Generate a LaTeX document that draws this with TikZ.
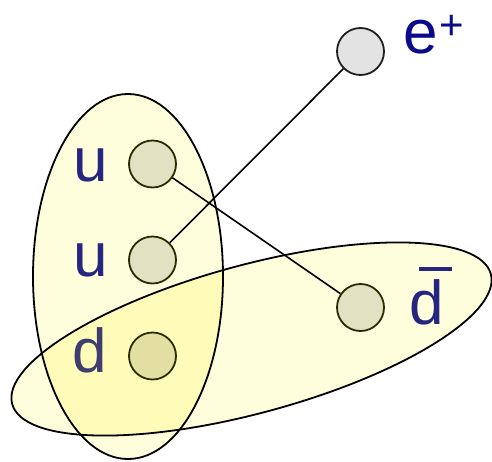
\documentclass[tikz,border=0pt]{standalone}
\usepackage{fontspec}
\setmainfont{Liberation Sans}
\definecolor{fillA}{HTML}{FEFEDC}
\definecolor{fillB}{HTML}{FFFBB8}
\definecolor{qline}{HTML}{2B2B00}
\definecolor{labA}{HTML}{262680}
\definecolor{labD}{HTML}{3E3E70}
\definecolor{labE}{HTML}{0A0A8C}
\begin{document}
\begin{tikzpicture}[x=1pt,y=-1pt,
  blob/.style={line width=1.8pt, draw=black},
  quark/.style={circle, minimum size=47pt, inner sep=0pt, draw=qline, line width=1.8pt, fill=black, fill opacity=0.11, draw opacity=1},
  lepton/.style={quark, draw=black!88},
  conn/.style={line width=1.6pt, draw=black},
  lab/.style={inner sep=0pt, font=\fontsize{62}{62}\selectfont}
]
\useasboundingbox (0,0) rectangle (492,461);
% fills
\fill[fillA] (128,276.5) ellipse [x radius=95pt, y radius=182.5pt];
\begin{scope}[shift={(251.5,339)}, rotate=15.2]
  \fill[fillA] (0,0) ellipse [x radius=248pt, y radius=74pt];
\end{scope}
\begin{scope}
  \clip (128,276.5) ellipse [x radius=95pt, y radius=182.5pt];
  \begin{scope}[shift={(251.5,339)}, rotate=15.2]
    \fill[fillB] (0,0) ellipse [x radius=248pt, y radius=74pt];
  \end{scope}
\end{scope}
% outlines
\draw[blob] (128,276.5) ellipse [x radius=95pt, y radius=182.5pt];
\begin{scope}[shift={(251.5,339)}, rotate=15.2]
  \draw[blob] (0,0) ellipse [x radius=248pt, y radius=74pt];
\end{scope}
% particles
\node[quark] (u1) at (152.5,164) {};
\node[quark] (u2) at (152.5,260) {};
\node[quark] (d) at (152.5,356) {};
\node[quark] (db) at (360.5,307.5) {};
\node[lepton] (ep) at (360.5,51.5) {};
% connectors
\draw[conn] (u1) -- (db);
\draw[conn] (u2) -- (ep);
% labels
\node[lab, text=labA] (lu1) at (91,165) {u};
\node[lab, text=labA] (lu2) at (91,260) {u};
\node[lab, text=labD] (ld) at (90,350.5) {d};
\node[lab, text=labA, anchor=base west] (ldb) at (409,324) {\rlap{\kern10pt\raisebox{53.5pt}{\rule{33pt}{3.5pt}}}d};
\node[lab, text=labE, anchor=base west] (le) at (403.5,53) {e\kern1pt\raisebox{14pt}{\fontsize{42}{42}\selectfont +}};
\end{tikzpicture}
\end{document}
